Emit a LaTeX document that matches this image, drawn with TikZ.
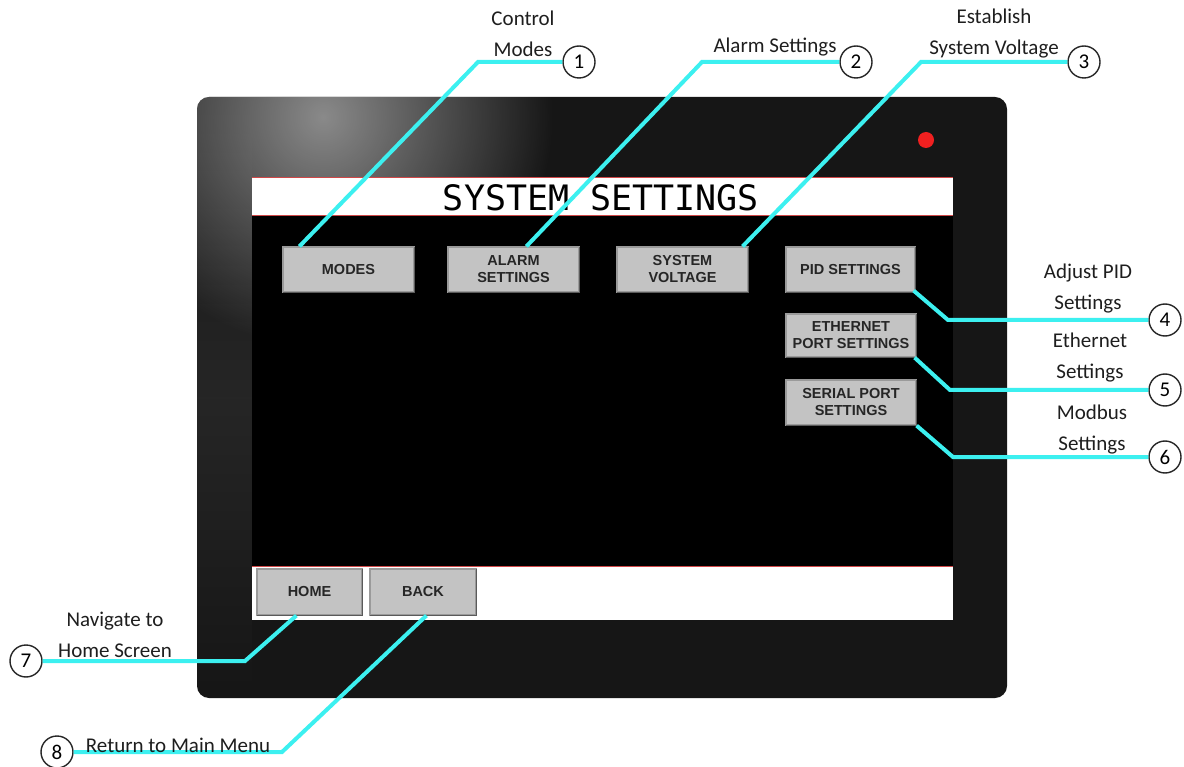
\documentclass[tikz,border=0pt]{standalone}
\usepackage{fontspec}
\setmainfont{Carlito}
\newfontfamily\btnfont{Liberation Sans}
\newfontfamily\titlefont{DejaVu Sans Mono}
\usetikzlibrary{calc,fadings}
\definecolor{bezel}{HTML}{161616}
\definecolor{bezelside}{HTML}{2A2A2A}
\definecolor{glow}{HTML}{8A8A8A}
\definecolor{cyanline}{HTML}{3CF0F0}
\definecolor{btngray}{HTML}{C3C3C3}
\definecolor{btnedge}{HTML}{9A9A9A}
\definecolor{btnshadow}{HTML}{5A5A5A}
\definecolor{redline}{HTML}{D04848}
\definecolor{leddot}{HTML}{F02020}
\definecolor{lbltext}{HTML}{1E1E1E}
\tikzfading[name=glowfade, inner color=transparent!0, outer color=transparent!100]
\tikzfading[name=sidefade, top color=transparent!100, bottom color=transparent!100, middle color=transparent!20]
\begin{document}
\begin{tikzpicture}[x=1pt,y=-1pt,
  btn/.style={draw=btnedge, fill=btngray, line width=1.2pt, inner sep=0pt, align=center,
    font=\btnfont\bfseries\fontsize{14.5}{17}\selectfont, text=black!85},
  btnshade/.style={draw=btnshadow, line width=1.6pt},
  callout/.style={draw=cyanline, line width=4pt},
  num/.style={circle, draw=black!85, line width=1.4pt, fill=white, minimum size=32pt, inner sep=0pt,
    font=\fontsize{21}{21}\selectfont},
  lbl/.style={font=\fontsize{21}{31}\selectfont, align=center, text=lbltext, inner sep=0pt}]
\useasboundingbox (0,0) rectangle (1184,767);
% bezel
\fill[bezel, rounded corners=12pt] (197,97) rectangle (1007,698);
\begin{scope}
  \clip[rounded corners=12pt] (197,97) rectangle (1007,698);
  \fill[bezelside, path fading=sidefade] (197,97) rectangle (252,698);
  \fill[glow, path fading=glowfade] (323,117) circle (230);
\end{scope}
% screen
\fill[black] (252,177) rectangle (953,620);
\fill[white] (252,178) rectangle (953,215);
\draw[redline, line width=1pt] (252,177.5) -- (953,177.5);
\draw[redline, line width=1pt] (252,215.5) -- (953,215.5);
\fill[white] (252,567) rectangle (953,620);
\draw[redline, line width=1pt] (252,566.5) -- (953,566.5);
\node[font=\titlefont\fontsize{35}{35}\selectfont, inner sep=0pt] (title) at (601,198) {SYSTEM SETTINGS};
% LED
\fill[leddot] (926,140) circle (8);
% buttons
\node[btn, minimum width=131pt, minimum height=45pt] (b1) at (348.5,269.5) {MODES};
\node[btn, minimum width=131pt, minimum height=45pt] (b2) at (513.5,269.5) {ALARM\\SETTINGS};
\node[btn, minimum width=131pt, minimum height=45pt] (b3) at (682.5,269.5) {SYSTEM\\VOLTAGE};
\node[btn, minimum width=129pt, minimum height=45pt] (b4) at (850.5,269.5) {PID SETTINGS};
\node[btn, minimum width=130pt, minimum height=43pt] (b5) at (851,335.5) {ETHERNET\\PORT SETTINGS};
\node[btn, minimum width=130pt, minimum height=45pt] (b6) at (851,402.5) {SERIAL PORT\\SETTINGS};
\node[btn, minimum width=105pt, minimum height=46pt] (b7) at (309.5,592) {HOME};
\node[btn, minimum width=106pt, minimum height=46pt] (b8) at (423,592) {BACK};
\foreach \b in {b1,b2,b3,b4,b5,b6,b7,b8}
  \draw[btnshade] ([xshift=1pt]\b.south west) -- (\b.south east) -- ([yshift=-1pt]\b.north east);
% numbered circles
\node[num] (c1) at (579,62) {1};
\node[num] (c2) at (856,62) {2};
\node[num] (c3) at (1084,62) {3};
\node[num] (c4) at (1165,320) {4};
\node[num] (c5) at (1165,390) {5};
\node[num] (c6) at (1165,457) {6};
\node[num] (c7) at (26,661) {7};
\node[num] (c8) at (57,752) {8};
% bends
\coordinate (k1) at (478,62);
\coordinate (k2) at (702,62);
\coordinate (k3) at (921,62);
\coordinate (k4) at (948,320);
\coordinate (k5) at (950,390);
\coordinate (k6) at (953,457);
\coordinate (k7) at (245,661);
\coordinate (k8) at (282,752);
% callout lines
\draw[callout] ([xshift=17pt]b1.north west) -- (k1) -- (c1);
\draw[callout] ([xshift=79pt]b2.north west) -- (k2) -- (c2);
\draw[callout] ([xshift=-6pt]b3.north east) -- (k3) -- (c3);
\draw[callout] ([xshift=-2pt,yshift=2pt]b4.south east) -- (k4) -- (c4);
\draw[callout] ([xshift=-2pt]b5.south east) -- (k5) -- (c5);
\draw[callout] (b6.south east) -- (k6) -- (c6);
\draw[callout] ([xshift=40pt]b7.south west) -- (k7) -- (c7);
\draw[callout] ([xshift=57pt]b8.south west) -- (k8) -- (c8);
% labels
\node[lbl] (l1) at (523,34) {Control\\Modes};
\node[lbl] (l2) at (775,47) {Alarm Settings};
\node[lbl] (l3) at (994,33.5) {Establish\\System Voltage};
\node[lbl] (l4) at (1088,289) {Adjust PID\\Settings};
\node[lbl] (l5) at (1090,357.5) {Ethernet\\Settings};
\node[lbl] (l6) at (1092,430) {Modbus\\Settings};
\node[lbl] (l7) at (115,635) {Navigate to\\Home Screen};
\node[lbl] (l8) at (178,745) {Return to Main Menu};
\end{tikzpicture}
\end{document}
